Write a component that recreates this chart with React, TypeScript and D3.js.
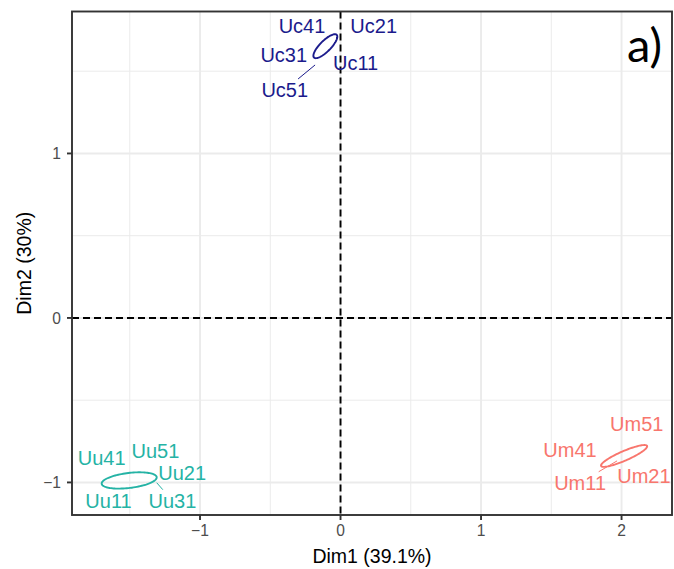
import * as d3 from 'd3';

// individuals (label names), grouped by treatment
const names = [
  'Uc41', 'Uc21', 'Uc31', 'Uc11', 'Uc51',
  'Uu41', 'Uu51', 'Uu21', 'Uu11', 'Uu31',
  'Um51', 'Um41', 'Um11', 'Um21',
];
const groupOf = [
  'Uc', 'Uc', 'Uc', 'Uc', 'Uc',
  'Uu', 'Uu', 'Uu', 'Uu', 'Uu',
  'Um', 'Um', 'Um', 'Um',
];

// individual coordinates (points are hidden, only used for segments)
const dim1 = [-0.146, -0.06, -0.16, -0.075, -0.181, -1.62, -1.45, -1.38, -1.58, -1.308, 2.1, 1.98, 1.968, 2.06];
const dim2 = [1.69, 1.702, 1.629, 1.641, 1.538, -0.975, -0.965, -0.975, -1.005, -1.002, -0.79, -0.82, -0.869, -0.85];

// repelled label positions
const labelDim1 = [-0.274, 0.236, -0.404, 0.107, -0.397, -1.7, -1.317, -1.127, -1.651, -1.196, 2.108, 1.633, 1.705, 2.159];
const labelDim2 = [1.776, 1.776, 1.601, 1.553, 1.386, -0.853, -0.807, -0.939, -1.111, -1.111, -0.646, -0.799, -1.002, -0.959];
const hasSegment = [false, false, false, false, true, false, false, false, false, true, false, false, true, false];

// group ellipses: centre and half-axis vectors in (Dim1, Dim2) units
const groups = ['Uc', 'Uu', 'Um'];
const groupColors = ['#1b1b8c', '#25b3a5', '#f8766d'];
const ellipseX = [-0.108, -1.504, 2.018];
const ellipseY = [1.652, -0.988, -0.839];
const majorX = [0.0807, 0.1957, 0.1637];
const majorY = [0.069, 0.0201, 0.0608];
const minorX = [0.027, 0.0064, 0.0135];
const minorY = [-0.0232, -0.0453, -0.0265];

const xTicks = [-1, 0, 1, 2];
const yTicks = [-1, 0, 1];
const xMinor = [-1.5, -0.5, 0.5, 1.5];
const yMinor = [-0.5, 0.5, 1.5];

export default function App() {
  const width = 674;
  const height = 569;
  const left = 72;
  const right = 672;
  const top = 11.5;
  const bottom = 515;

  const x = d3.scaleLinear().domain([-1.911, 2.359]).range([left, right]);
  const y = d3.scaleLinear().domain([-1.198, 1.863]).range([bottom, top]);

  const fmt = (v: number) => (v < 0 ? '\u2212' + Math.abs(v) : String(v));
  const font = 'Liberation Sans, Arial, sans-serif';

  const ellipseLine = d3
    .line<[number, number]>()
    .x((d) => x(d[0]))
    .y((d) => y(d[1]))
    .curve(d3.curveLinearClosed);

  const ellipsePath = (g: number) => {
    const pts: [number, number][] = d3.range(0, 100).map((i) => {
      const t = (i / 100) * Math.PI * 2;
      return [
        ellipseX[g] + majorX[g] * Math.cos(t) + minorX[g] * Math.sin(t),
        ellipseY[g] + majorY[g] * Math.cos(t) + minorY[g] * Math.sin(t),
      ];
    });
    return ellipseLine(pts);
  };

  // segment from point to the edge of the label box
  const segment = (i: number) => {
    const px = x(dim1[i]);
    const py = y(dim2[i]);
    const lx = x(labelDim1[i]);
    const ly = y(labelDim2[i]);
    const dx = lx - px;
    const dy = ly - py;
    const t = 1 - Math.min(24 / Math.abs(dx || 1e-9), 11 / Math.abs(dy || 1e-9));
    return { x1: px, y1: py, x2: px + dx * t, y2: py + dy * t };
  };

  return (
    <svg
      width={width}
      height={height}
      style={{ position: 'fixed', left: 0, top: 0, background: 'white' }}
      fontFamily={font}
    >
      {/* grid */}
      {xMinor.map((v) => (
        <line key={'xm' + v} x1={x(v)} x2={x(v)} y1={top} y2={bottom} stroke="#ebebeb" strokeWidth={1} />
      ))}
      {yMinor.map((v) => (
        <line key={'ym' + v} x1={left} x2={right} y1={y(v)} y2={y(v)} stroke="#ebebeb" strokeWidth={1} />
      ))}
      {xTicks.map((v) => (
        <line key={'xg' + v} x1={x(v)} x2={x(v)} y1={top} y2={bottom} stroke="#ebebeb" strokeWidth={1.9} />
      ))}
      {yTicks.map((v) => (
        <line key={'yg' + v} x1={left} x2={right} y1={y(v)} y2={y(v)} stroke="#ebebeb" strokeWidth={1.9} />
      ))}

      {/* reference lines */}
      <line x1={x(0)} x2={x(0)} y1={top} y2={bottom} stroke="black" strokeWidth={1.9} strokeDasharray="7,4" />
      <line x1={left} x2={right} y1={y(0)} y2={y(0)} stroke="black" strokeWidth={1.9} strokeDasharray="7,4" />

      {/* ellipses */}
      {groups.map((g, gi) => (
        <path key={g} d={ellipsePath(gi) || ''} fill="none" stroke={groupColors[gi]} strokeWidth={1.9} />
      ))}

      {/* label segments */}
      {names.map((n, i) => {
        if (!hasSegment[i]) return null;
        const s = segment(i);
        const c = groupColors[groups.indexOf(groupOf[i])];
        return <line key={'s' + n} {...s} stroke={c} strokeWidth={1} />;
      })}

      {/* labels */}
      {names.map((n, i) => (
        <text
          key={n}
          x={x(labelDim1[i])}
          y={y(labelDim2[i])}
          dy="0.36em"
          textAnchor="middle"
          fontSize={20}
          fill={groupColors[groups.indexOf(groupOf[i])]}
        >
          {n}
        </text>
      ))}

      {/* panel border */}
      <rect x={left} y={top} width={right - left} height={bottom - top} fill="none" stroke="#333333" strokeWidth={1.9} />

      {/* x axis */}
      {xTicks.map((v) => (
        <g key={'xt' + v}>
          <line x1={x(v)} x2={x(v)} y1={bottom} y2={bottom + 5} stroke="#333333" strokeWidth={1.9} />
          <text x={x(v)} y={536} textAnchor="middle" fontSize={15.6} fill="#4d4d4d">
            {fmt(v)}
          </text>
        </g>
      ))}
      <text x={(left + right) / 2} y={563} textAnchor="middle" fontSize={19.5} fill="black">
        Dim1 (39.1%)
      </text>

      {/* y axis */}
      {yTicks.map((v) => (
        <g key={'yt' + v}>
          <line x1={left - 5} x2={left} y1={y(v)} y2={y(v)} stroke="#333333" strokeWidth={1.9} />
          <text x={61} y={y(v)} dy="0.36em" textAnchor="end" fontSize={15.6} fill="#4d4d4d">
            {fmt(v)}
          </text>
        </g>
      ))}
      <text
        transform={`translate(31, ${(top + bottom) / 2}) rotate(-90)`}
        textAnchor="middle"
        fontSize={19.5}
        fill="black"
      >
        Dim2 (30%)
      </text>

      {/* panel tag */}
      <text x={627} y={62} fontSize={47} fontFamily="Lato, Open Sans, sans-serif" fill="black">
        a)
      </text>
    </svg>
  );
}
